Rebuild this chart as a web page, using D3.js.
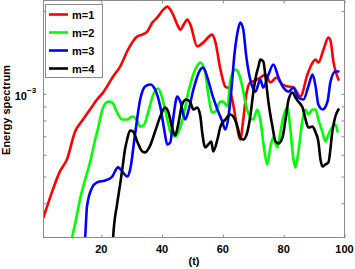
<!DOCTYPE html>
<html>
<head>
<meta charset="utf-8">
<script src="https://cdn.jsdelivr.net/npm/d3@7"></script>
<style>
  html, body { margin: 0; padding: 0; background: #fff; }
  svg { display: block; }
  text { font-family: "Liberation Sans", Arial, sans-serif; font-weight: bold; fill: #000; }
</style>
</head>
<body>
<svg id="chart" width="355" height="269"></svg>
<script>
// ---- data ----
const seriesNames = ["m=1", "m=2", "m=3", "m=4"];
const seriesColors = ["#ff0000", "#00ff00", "#0000ff", "#000000"];

const t1 = [1, 4.1, 6.4, 8.7, 11.4, 14.0, 16.3, 18.6, 20.6, 23.9, 26.2, 28.8, 31.8, 33.5, 35.1, 36.8, 38.4, 40.4, 41.7, 43.3, 45.0, 46.0, 47.3, 48.3, 49.3, 51.6, 53.5, 56.5, 57.5, 59.2, 60.8, 62.1, 63.4, 64.8, 65.7, 66.7, 67.7, 69.0, 70.7, 72.3, 74.0, 75.6, 77.6, 79.6, 81.6, 83.2, 85.5, 87.8, 89.5, 90.5, 91.4, 93.1, 94.7, 95.4, 96.4, 98.0];
const m1 = [3.55e-4, 4.49e-4, 5.22e-4, 5.77e-4, 7.29e-4, 8.06e-4, 8.77e-4, 9.53e-4, 1.011e-3, 1.156e-3, 1.257e-3, 1.449e-3, 1.616e-3, 1.643e-3, 1.685e-3, 1.816e-3, 1.894e-3, 2.025e-3, 2.077e-3, 1.975e-3, 1.786e-3, 1.713e-3, 1.801e-3, 1.863e-3, 1.786e-3, 1.486e-3, 1.536e-3, 1.643e-3, 1.549e-3, 1.226e-3, 1.063e-3, 1.045e-3, 0.914e-3, 0.742e-3, 0.682e-3, 0.806e-3, 0.994e-3, 1.099e-3, 1.118e-3, 1.146e-3, 1.175e-3, 1.099e-3, 1.146e-3, 1.081e-3, 1.063e-3, 1.054e-3, 0.978e-3, 1.175e-3, 1.299e-3, 1.332e-3, 1.299e-3, 1.449e-3, 1.602e-3, 1.562e-3, 1.299e-3, 1.127e-3];

const t2 = [9.1, 10.4, 11.7, 13.0, 14.7, 16.3, 18.0, 19.0, 20.6, 22.3, 23.6, 25.2, 26.9, 28.5, 30.2, 31.8, 32.8, 34.1, 35.4, 37.1, 38.7, 40.0, 41.7, 42.7, 44.3, 45.3, 47.0, 48.6, 50.9, 52.6, 54.2, 55.2, 56.5, 57.5, 59.2, 60.1, 61.5, 62.4, 64.1, 65.1, 66.4, 67.4, 69.0, 70.0, 71.3, 72.3, 73.6, 74.6, 75.6, 76.6, 77.9, 78.9, 79.9, 81.2, 82.2, 83.2, 83.9, 84.8, 86.2, 87.2, 88.1, 89.5, 90.5, 91.4, 92.8, 93.7, 94.7, 96.1, 97.0, 97.7];
const m2 = [2.56e-4, 3.00e-4, 3.49e-4, 4.13e-4, 4.88e-4, 5.63e-4, 6.82e-4, 7.54e-4, 8.92e-4, 9.37e-4, 9.30e-4, 8.55e-4, 8.06e-4, 8.06e-4, 8.27e-4, 8.00e-4, 7.60e-4, 7.73e-4, 8.55e-4, 9.94e-4, 1.045e-3, 9.69e-4, 8.06e-4, 7.29e-4, 6.99e-4, 7.23e-4, 8.27e-4, 1.011e-3, 1.226e-3, 1.299e-3, 1.195e-3, 9.94e-4, 8.55e-4, 8.62e-4, 9.37e-4, 9.37e-4, 8.99e-4, 1.108e-3, 1.226e-3, 1.195e-3, 1.063e-3, 9.30e-4, 8.20e-4, 8.06e-4, 8.77e-4, 8.06e-4, 6.27e-4, 5.53e-4, 6.38e-4, 6.94e-4, 6.38e-4, 7.23e-4, 8.27e-4, 8.92e-4, 7.42e-4, 5.77e-4, 5.40e-4, 6.12e-4, 8.06e-4, 8.77e-4, 8.41e-4, 8.77e-4, 8.77e-4, 8.06e-4, 7.23e-4, 6.71e-4, 7.11e-4, 7.60e-4, 7.73e-4, 7.29e-4];

const t3 = [14.3, 14.7, 15.3, 17.0, 18.6, 21.3, 23.6, 25.5, 27.2, 28.5, 29.5, 31.1, 32.8, 34.4, 36.1, 37.7, 39.4, 40.7, 41.7, 42.7, 43.7, 45.0, 46.0, 47.6, 48.6, 50.3, 52.6, 53.5, 54.9, 56.5, 58.2, 59.8, 60.8, 61.8, 62.8, 63.8, 64.8, 65.7, 66.7, 67.7, 69.0, 70.7, 72.3, 73.3, 75.0, 76.6, 78.3, 79.9, 81.6, 83.2, 84.8, 86.5, 88.1, 89.5, 90.5, 91.4, 92.8, 94.4, 95.4, 97.0, 98.0];
const m3 = [2.72e-4, 3.00e-4, 3.89e-4, 4.56e-4, 4.76e-4, 4.84e-4, 5.00e-4, 5.40e-4, 5.17e-4, 5.00e-4, 5.30e-4, 7.11e-4, 9.53e-4, 1.063e-3, 1.081e-3, 1.037e-3, 8.99e-4, 7.42e-4, 6.54e-4, 6.65e-4, 8.20e-4, 9.78e-4, 9.37e-4, 8.06e-4, 8.62e-4, 1.037e-3, 1.226e-3, 1.246e-3, 1.146e-3, 9.94e-4, 8.77e-4, 7.93e-4, 7.42e-4, 8.20e-4, 1.037e-3, 1.389e-3, 1.671e-3, 1.816e-3, 1.713e-3, 1.366e-3, 1.127e-3, 1.019e-3, 1.127e-3, 1.054e-3, 1.175e-3, 1.278e-3, 1.146e-3, 1.054e-3, 1.019e-3, 1.054e-3, 9.69e-4, 9.53e-4, 1.063e-3, 1.175e-3, 1.063e-3, 9.14e-4, 8.77e-4, 9.37e-4, 1.108e-3, 1.205e-3, 1.205e-3];

const t4 = [23.6, 23.9, 25.2, 26.2, 26.9, 27.8, 28.5, 29.5, 30.5, 31.8, 33.5, 34.4, 36.1, 37.7, 39.4, 41.0, 42.0, 43.3, 44.3, 45.3, 46.6, 47.9, 49.3, 50.3, 51.6, 52.6, 53.2, 54.2, 55.2, 56.2, 56.8, 58.2, 59.2, 60.8, 62.4, 63.4, 64.8, 65.7, 66.7, 68.0, 69.0, 70.0, 71.0, 71.7, 72.3, 73.3, 74.0, 75.0, 76.3, 77.3, 78.3, 79.6, 80.6, 81.6, 82.9, 83.9, 84.8, 86.2, 87.2, 88.1, 89.5, 90.5, 91.4, 92.1, 92.8, 93.7, 94.7, 96.1, 97.0, 98.0];
const m4 = [2.50e-4, 3.00e-4, 3.96e-4, 4.68e-4, 5.30e-4, 6.27e-4, 6.82e-4, 7.35e-4, 7.29e-4, 6.71e-4, 6.17e-4, 6.12e-4, 6.49e-4, 7.29e-4, 8.27e-4, 8.92e-4, 8.62e-4, 7.54e-4, 7.05e-4, 7.73e-4, 9.14e-4, 9.53e-4, 9.30e-4, 8.77e-4, 8.92e-4, 8.27e-4, 7.23e-4, 6.38e-4, 6.54e-4, 6.71e-4, 6.17e-4, 6.82e-4, 7.60e-4, 8.06e-4, 8.41e-4, 8.27e-4, 7.60e-4, 6.94e-4, 6.82e-4, 7.23e-4, 8.27e-4, 1.011e-3, 1.175e-3, 1.257e-3, 1.332e-3, 1.311e-3, 1.156e-3, 9.30e-4, 7.60e-4, 6.71e-4, 6.60e-4, 6.94e-4, 8.06e-4, 9.53e-4, 1.011e-3, 9.69e-4, 9.37e-4, 8.92e-4, 8.06e-4, 7.54e-4, 7.60e-4, 7.23e-4, 6.71e-4, 5.77e-4, 5.44e-4, 5.53e-4, 5.63e-4, 7.42e-4, 8.27e-4, 8.77e-4];

const xTicks = [20, 40, 60, 80, 100];
const yMinorTicks = [4e-4, 5e-4, 6e-4, 7e-4, 8e-4, 9e-4, 2e-3];
const yMajorTick = 1e-3;
const xDomain = [1, 100];
const yDomain = [3e-4, 2.186e-3];
const xLabel = "(t)";
const yLabel = "Energy spectrum";

// ---- drawing ----
const svg = d3.select("#chart");
const L = 43.5, R = 344.5, T = 0.5, B = 237.5;
const x = d3.scaleLinear().domain(xDomain).range([L, R]);
const y = d3.scaleLog().domain(yDomain).range([B, T]);

svg.append("defs").append("clipPath").attr("id", "clip")
  .append("rect").attr("x", L).attr("y", T).attr("width", R - L).attr("height", B - T);

const series = [[t1, m1], [t2, m2], [t3, m3], [t4, m4]];
const line = d3.line().x(d => x(d[0])).y(d => y(d[1])).curve(d3.curveMonotoneX);

const plot = svg.append("g").attr("clip-path", "url(#clip)");
series.forEach((s, i) => {
  const pts = s[0].map((t, j) => [t, s[1][j]]);
  plot.append("path").datum(pts)
    .attr("d", line)
    .attr("fill", "none")
    .attr("stroke", seriesColors[i])
    .attr("stroke-width", 2.6)
    .attr("stroke-linejoin", "round")
    .attr("stroke-linecap", "round");
});

// axes (box with inward ticks)
const axColor = "#8a8a8a";
const tl = 3;
const fmt = () => "";
svg.append("g").attr("transform", `translate(0,${B})`)
  .call(d3.axisBottom(x).tickValues(xTicks).tickSize(-tl).tickFormat(fmt))
  .call(g => g.select(".domain").remove());
svg.append("g").attr("transform", `translate(0,${T})`)
  .call(d3.axisTop(x).tickValues(xTicks).tickSize(-tl).tickFormat(fmt))
  .call(g => g.select(".domain").remove());
const yTickVals = yMinorTicks.concat([yMajorTick]);
svg.append("g").attr("transform", `translate(${L},0)`)
  .call(d3.axisLeft(y).tickValues(yTickVals).tickSize(-tl).tickFormat(fmt))
  .call(g => g.select(".domain").remove());
svg.append("g").attr("transform", `translate(${R},0)`)
  .call(d3.axisRight(y).tickValues(yTickVals).tickSize(-tl).tickFormat(fmt))
  .call(g => g.select(".domain").remove());
svg.selectAll(".tick line").attr("stroke", axColor).attr("stroke-width", 1);

svg.append("rect").attr("x", L).attr("y", T).attr("width", R - L).attr("height", B - T)
  .attr("fill", "none").attr("stroke", axColor).attr("stroke-width", 1);

// tick labels
svg.append("g").selectAll("text").data(xTicks).join("text")
  .attr("x", d => x(d)).attr("y", 253)
  .attr("text-anchor", "middle").attr("font-size", 11)
  .text(d => d);

const yl = svg.append("text").attr("x", 27).attr("y", y(yMajorTick) + 6)
  .attr("text-anchor", "end").attr("font-size", 11);
yl.append("tspan").text("10");
svg.append("text").attr("x", 27).attr("y", y(yMajorTick) - 1)
  .attr("font-size", 8).text("\u22123");

// axis labels
svg.append("text").attr("x", (L + R) / 2).attr("y", 265)
  .attr("text-anchor", "middle").attr("font-size", 11).text(xLabel);
svg.append("text").attr("transform", `translate(10,110) rotate(-90)`)
  .attr("text-anchor", "middle").attr("font-size", 11).text(yLabel);

// legend
const lg = svg.append("g");
lg.append("rect").attr("x", 45.5).attr("y", 4.5).attr("width", 57).attr("height", 73)
  .attr("fill", "#fff").attr("stroke", axColor).attr("stroke-width", 1);
seriesNames.forEach((n, i) => {
  const cy = 14.5 + i * 18;
  lg.append("line").attr("x1", 49).attr("x2", 68).attr("y1", cy).attr("y2", cy)
    .attr("stroke", seriesColors[i]).attr("stroke-width", 2.6);
  lg.append("text").attr("x", 72).attr("y", cy + 4).attr("font-size", 11).text(n);
});
</script>
</body>
</html>
